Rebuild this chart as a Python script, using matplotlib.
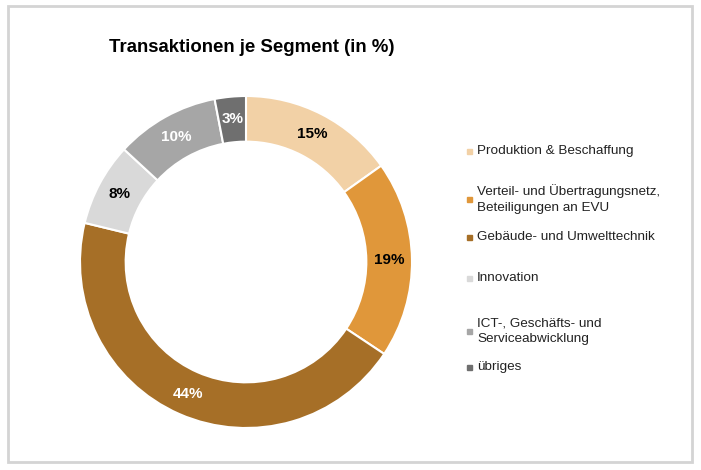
import matplotlib.pyplot as plt
from matplotlib.patches import Rectangle

plt.rcParams['font.family'] = ['Liberation Sans', 'DejaVu Sans']

# data
segments = ["Produktion & Beschaffung",
            "Verteil- und Übertragungsnetz,\nBeteiligungen an EVU",
            "Gebäude- und Umwelttechnik",
            "Innovation",
            "ICT-, Geschäfts- und\nServiceabwicklung",
            "übriges"]
shares = [15, 19, 44, 8, 10, 3]
colors = ["#F2D1A6", "#E0973A", "#A66F27", "#D9D9D9", "#A6A6A6", "#6F6F6F"]
label_colors = ["black", "black", "white", "black", "white", "white"]

W, H = 701, 470
fig = plt.figure(figsize=(W / 100, H / 100), dpi=100)

# outer frame
fig.patches.append(Rectangle((8 / W, 1 - 462 / H), 684 / W, 456 / H,
                             transform=fig.transFigure, fill=False,
                             edgecolor="#D4D4D4", linewidth=2))

cx, cy, r = 246, 262, 166
ax = fig.add_axes([(cx - r) / W, (H - cy - r) / H, 2 * r / W, 2 * r / H])
wedges, texts, autotexts = ax.pie(
    shares, colors=colors, startangle=90, counterclock=False,
    autopct=lambda p: f"{p * sum(shares) / 100:.0f}%", pctdistance=0.865,
    wedgeprops=dict(width=0.275, edgecolor="white", linewidth=1.5))
for t, c in zip(autotexts, label_colors):
    t.set_color(c)
    t.set_fontsize(11)
    t.set_fontweight("bold")
ax.set_xlim(-1, 1)
ax.set_ylim(-1, 1)
ax.axis("off")

fig.text(252 / W, 1 - 47 / H, "Transaktionen je Segment (in %)",
         ha="center", va="center", fontsize=13.4, fontweight="bold")

# legend
leg_y = [151, 199, 237, 278, 331, 367]
for name, col, y in zip(segments, colors, leg_y):
    fig.patches.append(Rectangle((467 / W, 1 - (y + 2.5) / H), 5 / W, 5 / H,
                                 transform=fig.transFigure, color=col))
    fig.text(477 / W, 1 - y / H, name, ha="left", va="center",
             fontsize=9.7, linespacing=1.4, color="#222222")

fig.savefig("out.png", dpi=100)
